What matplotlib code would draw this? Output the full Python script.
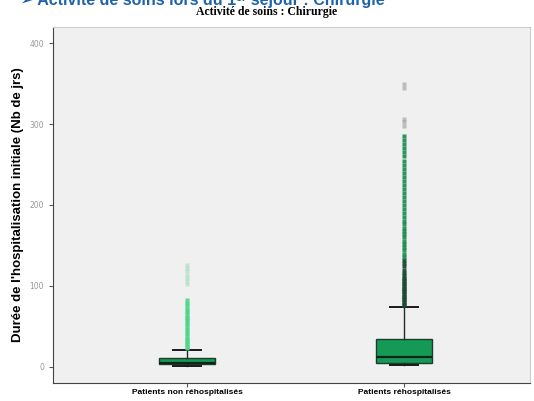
import matplotlib
matplotlib.use("Agg")
import matplotlib.pyplot as plt

# values (days)
categories = ["Patients non réhospitalisés", "Patients réhospitalisés"]
q1 = [3, 5]
median = [5, 12]
q3 = [11, 34]
whisker_low = [1, 2]
whisker_high = [21, 74]
outliers_non = [23, 25, 27, 29, 31, 33, 35, 37, 40, 42, 45, 47, 50, 53, 55, 58,
                60, 62, 65, 68, 70, 73, 76, 79, 82]
outliers_non_far = [102, 106, 110, 114, 118, 122, 126]
outliers_re_dense = [76, 78, 80, 82, 84, 86, 88, 90, 92, 94, 96, 98, 100, 102,
                     104, 106, 108, 110, 113, 116, 120, 124, 128, 132]
outliers_re = [136, 140, 144, 148, 152, 156, 160, 164, 168, 172, 176, 180,
               185, 190, 195, 200, 205, 210, 215, 220, 225, 230, 235, 240,
               245, 250, 255, 260, 265, 270, 275, 280, 285]
outliers_re_far = [298, 302, 306, 345, 350]

fig = plt.figure(figsize=(5.34, 4.01), dpi=100)
ax = fig.add_axes([53 / 534, 1 - 383 / 401, 477 / 534, 356 / 401])
ax.set_facecolor("#f0f0f0")

stats = []
for i in range(2):
    stats.append({"q1": q1[i], "med": median[i], "q3": q3[i],
                  "whislo": whisker_low[i], "whishi": whisker_high[i],
                  "fliers": []})
ax.bxp(stats, positions=[1, 2], widths=0.26, patch_artist=True,
       showfliers=False,
       boxprops=dict(facecolor="#159a55", edgecolor="#1d3d2c", linewidth=1),
       medianprops=dict(color="#10241a", linewidth=1.6),
       whiskerprops=dict(color="#2a2a2a", linewidth=1),
       capprops=dict(color="#1a1a1a", linewidth=1.4),
       capwidths=0.13)

ax.plot([1] * len(outliers_non), outliers_non, ls="none", marker="s", ms=3.2,
        mfc="#4fd68a", mec="none", alpha=0.9)
ax.plot([1] * len(outliers_non_far), outliers_non_far, ls="none", marker="s",
        ms=3.2, mfc="#a8dcc0", mec="none", alpha=0.6)
ax.plot([2] * len(outliers_re_dense), outliers_re_dense, ls="none", marker="s",
        ms=3.4, mfc="#1b4d34", mec="none", alpha=0.95)
ax.plot([2] * len(outliers_re), outliers_re, ls="none", marker="s", ms=3.2,
        mfc="#178a4c", mec="none", alpha=0.9)
ax.plot([2] * len(outliers_re_far), outliers_re_far, ls="none", marker="s",
        ms=3.2, mfc="#7a7f7c", mec="none", alpha=0.45)

ax.set_xlim(0.382, 2.58)
ax.set_ylim(-20, 420)
ax.set_yticks([0, 100, 200, 300, 400])
ax.set_xticks([1, 2])
ax.set_xticklabels(categories, fontsize=6, fontweight="bold",
                   family="Liberation Sans")
ax.tick_params(axis="y", labelsize=5.5, labelcolor="#999999", length=3,
               color="#555555")
ax.tick_params(axis="x", length=3, pad=1, color="#555555")
for s in ["top", "right"]:
    ax.spines[s].set_color("#cccccc")
for s in ["left", "bottom"]:
    ax.spines[s].set_color("#444444")
ax.set_ylabel("Durée de l'hospitalisation initiale (Nb de jrs)", fontsize=9.5,
              fontweight="bold", family="Liberation Sans", labelpad=4)

fig.text(0.5, 1 - 12 / 401, "Activité de soins : Chirurgie", ha="center",
         va="center", fontsize=8.5, fontweight="bold", family="Liberation Serif")
# blue section heading, cut at the top edge as in the source page
fig.text(20 / 534, 1.0, "➢ Activité de soins lors du 1ᵉʳ séjour : Chirurgie",
         ha="left", va="center", fontsize=11.5, fontweight="bold",
         color="#1f63a8", family=["Liberation Sans", "DejaVu Sans"])

fig.savefig("out.png", dpi=100)
